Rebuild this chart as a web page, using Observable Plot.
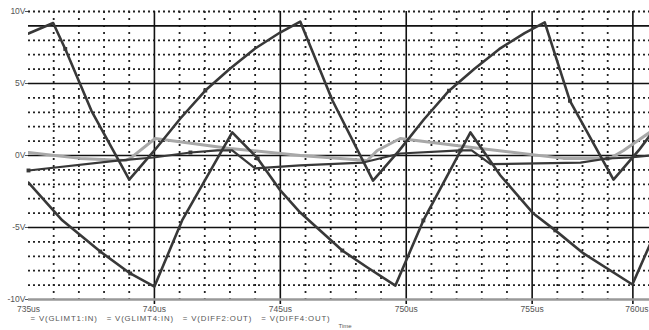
<!DOCTYPE html>
<html><head><meta charset="utf-8">
<script src="https://cdn.jsdelivr.net/npm/d3@7"></script>
<script src="https://cdn.jsdelivr.net/npm/@observablehq/plot@0.6"></script>
<style>body{margin:0;background:#fff}</style>
</head><body><div id="chart"></div>
<script>
// Trace names
const seriesNames = ["V(GLIMT1:IN)", "V(GLIMT4:IN)", "V(DIFF2:OUT)", "V(DIFF4:OUT)"];

// V(GLIMT1:IN) — time (us), volts
const tGlimt1 = [735.0, 735.98, 736.46, 737.5, 739.0, 740.0, 741.03, 742.02, 743.01, 744.0, 744.99, 745.79, 747.07, 748.68, 749.7, 750.7, 751.7, 752.7, 753.7, 754.7, 755.5, 756.5, 758.23, 759.23, 760.2];
const vGlimt1 = [8.47, 9.2, 7.4, 3.1, -1.67, 0.35, 2.57, 4.51, 6.04, 7.43, 8.54, 9.3, 3.82, -1.74, 0.3, 2.5, 4.5, 6.0, 7.4, 8.5, 9.25, 3.8, -1.67, 0.35, 2.6];
const mGlimt1 = [2, 7, 16, 21]; // sample indices carrying a trace symbol

// V(GLIMT4:IN)
const tGlimt4 = [735.0, 736.34, 737.85, 739.04, 740.0, 741.1, 743.09, 744.1, 745.0, 745.79, 747.46, 748.46, 749.57, 750.68, 752.55, 753.74, 755.05, 755.92, 757.04, 758.98, 760.1];
const vGlimt4 = [-1.88, -4.5, -6.67, -8.19, -9.1, -4.51, 1.6, -0.2, -2.43, -3.96, -6.6, -7.78, -9.03, -4.51, 1.6, -1.39, -4.03, -5.2, -6.8, -8.96, -4.5];
const mGlimt4 = [2, 3, 7, 10, 13, 17];

// V(DIFF2:OUT)
const tDiff2 = [735.0, 738.53, 739.96, 741.43, 742.5, 743.09, 744.0, 745.79, 748.29, 749.76, 752.15, 752.6, 753.35, 756.92, 757.99, 758.9, 759.66];
const vDiff2 = [-1.04, -0.35, -0.14, 0.21, 0.35, 0.35, -0.9, -0.69, -0.49, 0.14, 0.35, 0.35, -0.6, -0.49, -0.21, -0.14, 0.0];
const mDiff2 = [0, 3, 10, 14];

// V(DIFF4:OUT)
const tDiff4 = [735.0, 737.05, 738.85, 739.04, 740.03, 743.0, 745.79, 748.45, 748.85, 749.76, 752.94, 756.24, 758.1, 758.63, 759.66];
const vDiff4 = [0.21, -0.2, -0.35, -0.2, 1.18, 0.49, 0.0, -0.35, 0.35, 1.18, 0.49, -0.2, -0.2, 0.35, 1.6];

// Axis ticks
const yTickValues = [-10, -5, 0, 5, 10];
const yTickLabels = ["-10V", "-5V", "0V", "5V", "10V"];
const xTickValues = [735, 740, 745, 750, 755];
const xTickLabels = ["735us", "740us", "745us", "750us", "755us"];
const xLastLabel = "760us";
const xEnd = 759.66;
const majorX = [740, 745, 750, 755, 759];
const majorY = [-5, 0, 5, 9];
const minorX = d3.range(736, 759).filter(t => !majorX.includes(t));
const minorY = d3.range(-9, 11).filter(v => !majorY.includes(v));

const toRows = (ts, vs) => ts.map((t, i) => ({t, v: vs[i]}));
const pick = (ts, vs, idx) => idx.map(i => ({t: ts[i], v: vs[i]}));
const dark = "#383838";
const font = "Liberation Sans, Arial, sans-serif";
const legendText = seriesNames.map(n => "= " + n).join("   ");

const chart = Plot.plot({
  width: 649, height: 330,
  marginLeft: 28, marginRight: 0, marginTop: 11, marginBottom: 31,
  style: {fontFamily: font, background: "#fff"},
  x: {type: "linear", domain: [735, xEnd], axis: null},
  y: {type: "linear", domain: [-10, 10], axis: null},
  marks: [
    Plot.ruleY(minorY, {stroke: "#222", strokeWidth: 1.8, strokeDasharray: "2,3"}),
    Plot.ruleX(minorX, {stroke: "#222", strokeWidth: 1.8, strokeDasharray: "2,5"}),
    Plot.ruleY(majorY, {stroke: "#111", strokeWidth: 1.6}),
    Plot.ruleX(majorX, {stroke: "#111", strokeWidth: 1.6, y1: () => -10.35, y2: () => 10}),
    Plot.ruleY([-10], {stroke: "#999", strokeWidth: 2.5}),
    // y tick marks & labels
    Plot.ruleY(yTickValues, {x1: () => 734.88, x2: () => 735, stroke: "#555", strokeWidth: 1}),
    Plot.text(yTickValues, {x: () => 735, y: d => d, text: (d, i) => yTickLabels[i], textAnchor: "end", dx: -3, fontSize: 8.5, fill: "#555"}),
    // x tick labels
    Plot.text(xTickValues, {x: d => d, y: () => -10, text: (d, i) => xTickLabels[i], textAnchor: "middle", dy: 9.5, fontSize: 8.5, fill: "#555"}),
    Plot.text([xEnd], {x: d => d, y: () => -10, text: () => xLastLabel, textAnchor: "end", dx: -1, dy: 9.5, fontSize: 8.5, fill: "#555"}),
    // traces
    Plot.line(toRows(tDiff4, vDiff4), {x: "t", y: "v", stroke: "#a8a8a8", strokeWidth: 3, clip: true}),
    Plot.line(toRows(tDiff2, vDiff2), {x: "t", y: "v", stroke: dark, strokeWidth: 2.2, clip: true}),
    Plot.line(toRows(tGlimt1, vGlimt1), {x: "t", y: "v", stroke: dark, strokeWidth: 2.6, clip: true}),
    Plot.line(toRows(tGlimt4, vGlimt4), {x: "t", y: "v", stroke: dark, strokeWidth: 2.6, clip: true}),
    // trace symbols
    Plot.dot(pick(tGlimt1, vGlimt1, mGlimt1), {x: "t", y: "v", symbol: "square", r: 2.2, fill: dark}),
    Plot.dot(pick(tGlimt4, vGlimt4, mGlimt4), {x: "t", y: "v", symbol: "square", r: 2.2, fill: dark}),
    Plot.dot(pick(tDiff2, vDiff2, mDiff2), {x: "t", y: "v", symbol: "square", r: 2.2, fill: dark}),
    // legend
    Plot.text([legendText], {frameAnchor: "bottom-left", dx: 2, dy: 21.5, textAnchor: "start", fontSize: 7.8, fill: "#555", text: d => d}),
    Plot.text(["Time"], {frameAnchor: "bottom", dx: 6, dy: 28.5, fontSize: 6, fill: "#555", text: d => d})
  ]
});
// widen legend lettering like the reference's spaced-out trace names
d3.select(chart).selectAll("text").filter(function () { return this.textContent === legendText; })
  .attr("letter-spacing", "0.85px");
document.getElementById("chart").append(chart);
</script>
</body></html>
